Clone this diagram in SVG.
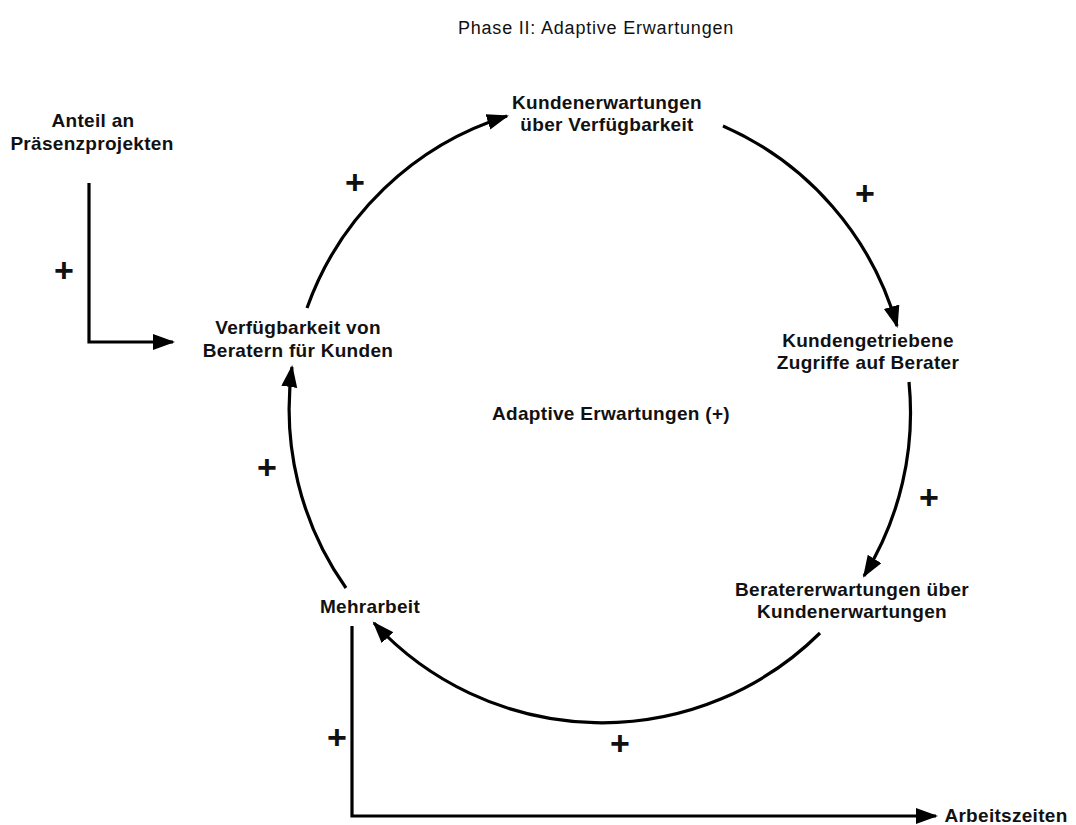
<svg xmlns="http://www.w3.org/2000/svg" width="1076" height="825" viewBox="0 0 1076 825">
  <defs>
    <marker id="arrow" markerUnits="userSpaceOnUse" markerWidth="24" markerHeight="18" refX="20" refY="8" orient="auto">
      <path d="M0,0 L22,8 L0,16 z" fill="#000"/>
    </marker>
    <style>
      .title { font-family: "Liberation Sans", Arial, sans-serif; font-size: 18px; letter-spacing: 0.8px; fill: #111; text-anchor: middle; }
      .label { font-family: "Liberation Sans", Arial, sans-serif; font-size: 19px; font-weight: bold; letter-spacing: 0.3px; fill: #111; text-anchor: middle; }
      .plus { font-family: "Liberation Sans", Arial, sans-serif; font-size: 34px; font-weight: bold; fill: #111; text-anchor: middle; }
      .link { fill: none; stroke: #000; stroke-width: 3.2; marker-end: url(#arrow); }
    </style>
  </defs>
  <rect width="1076" height="825" fill="#fff"/>

  <text class="title" x="596" y="34">Phase II: Adaptive Erwartungen</text>

  <!-- loop connectors and exogenous links -->
  <g id="connectors">
    <path class="link" d="M307,308 A310,310 0 0,1 507,116"/>
    <path class="link" d="M723,126 A310,310 0 0,1 897,326"/>
    <path class="link" d="M909,382 A310,310 0 0,1 864,576"/>
    <path class="link" d="M820,633 A310,310 0 0,1 374,623"/>
    <path class="link" d="M346,588 A310,310 0 0,1 292,367"/>
    <path class="link" d="M89,183 L89,342 L173,342"/>
    <path class="link" d="M352,626 L352,816 L936,816"/>
  </g>

  <!-- polarity signs -->
  <g id="polarities">
    <text class="plus" x="355" y="194">+</text>
    <text class="plus" x="865" y="205">+</text>
    <text class="plus" x="929" y="509">+</text>
    <text class="plus" x="267" y="479">+</text>
    <text class="plus" x="620" y="755">+</text>
    <text class="plus" x="64" y="282">+</text>
    <text class="plus" x="337" y="749">+</text>
  </g>

  <g id="node-kundenerwartungen">
    <text class="label" x="607" y="109">Kundenerwartungen</text>
    <text class="label" x="607" y="131">über Verfügbarkeit</text>
  </g>
  <g id="node-zugriffe">
    <text class="label" x="868" y="347">Kundengetriebene</text>
    <text class="label" x="868" y="369">Zugriffe auf Berater</text>
  </g>
  <g id="node-beratererwartungen">
    <text class="label" x="852" y="596">Beratererwartungen über</text>
    <text class="label" x="852" y="618">Kundenerwartungen</text>
  </g>
  <g id="node-mehrarbeit">
    <text class="label" x="370" y="613">Mehrarbeit</text>
  </g>
  <g id="node-verfuegbarkeit">
    <text class="label" x="298" y="334">Verfügbarkeit von</text>
    <text class="label" x="298" y="357">Beratern für Kunden</text>
  </g>
  <g id="node-anteil">
    <text class="label" x="93" y="127">Anteil an</text>
    <text class="label" x="92" y="150">Präsenzprojekten</text>
  </g>
  <g id="node-arbeitszeiten">
    <text class="label" x="1006" y="822">Arbeitszeiten</text>
  </g>
  <g id="loop-label">
    <text class="label" x="611" y="420">Adaptive Erwartungen (+)</text>
  </g>
</svg>
